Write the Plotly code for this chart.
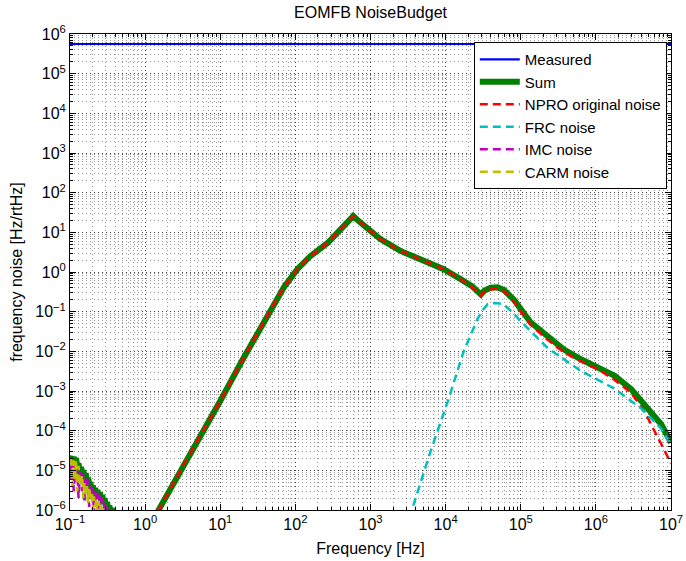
import math
import plotly.graph_objects as go

# ---------------- data ----------------
measured_freq = [0.1, 1e7]
measured_vals = [5.6e5, 5.6e5]

# low-frequency noise region (Hz)
f_low = [0.100, 0.104, 0.108, 0.112, 0.116, 0.120, 0.125, 0.130, 0.135, 0.140,
         0.145, 0.150, 0.156, 0.162, 0.168, 0.174, 0.180, 0.187, 0.194, 0.201,
         0.208, 0.216, 0.224, 0.232, 0.241, 0.250, 0.259, 0.269, 0.279, 0.289,
         0.300, 0.311, 0.322, 0.334, 0.347, 0.360]

imc_vals = [1.4e-5, 6e-6, 1.5e-5, 3e-6, 1.6e-5, 5e-6, 1.1e-5, 2e-6, 7e-6, 1.0e-5,
            3e-6, 8e-6, 1.5e-6, 7e-6, 3.5e-6, 5.5e-6, 1.2e-6, 4.2e-6, 2.5e-6, 3.5e-6,
            8e-7, 3e-6, 1.8e-6, 2.7e-6, 6e-7, 2.3e-6, 1.3e-6, 2e-6, 5e-7, 1.6e-6,
            9e-7, 1.3e-6, 4e-7, 1.0e-6, 5e-7, 8e-7]

carm_vals = [1.8e-5, 1.9e-5, 4e-6, 1.8e-5, 6e-6, 1.7e-5, 3e-6, 1.3e-5, 4e-6, 5e-6,
             7.5e-6, 2e-6, 5e-6, 2.5e-6, 4e-6, 1.5e-6, 3.8e-6, 2e-6, 2.6e-6, 1e-6,
             2.2e-6, 1.2e-6, 1.9e-6, 7e-7, 1.7e-6, 9e-7, 1.4e-6, 6e-7, 1.2e-6, 7e-7,
             1.0e-6, 4e-7, 8e-7, 3e-7, 6e-7, 2e-7]

# NPRO original noise
npro_freq = [1.0, 1.49, 3.16, 10, 20, 43.7, 53.7, 70.8, 107, 158, 269, 437, 525, 589,
             660, 912, 1350, 2500, 4680, 9300, 15800, 22400, 29500, 33000, 39800,
             49000, 60000, 81000, 135000, 224000, 372000, 631000, 1.07e6, 1.78e6,
             2.95e6, 4.37e6, 7.4e6, 1e7]
npro_vals = [2.5e-7, 9.3e-7, 1.26e-5, 5.6e-4, 6.3e-3, 0.091, 0.178, 0.42, 1.2, 2.5,
             5.4, 14.5, 21, 25.7, 21, 12.3, 6.8, 3.4, 2.1, 1.2, 0.66, 0.42, 0.25,
             0.32, 0.37, 0.38, 0.32, 0.178, 0.047, 0.02, 9.5e-3, 5.6e-3, 3.5e-3,
             1.9e-3, 8.9e-4, 3.2e-4, 4.6e-5, 1.5e-5]

# FRC noise
frc_freq = [3000, 3550, 6300, 10700, 17400, 26900, 31600, 36300, 45700, 58900,
            75900, 100000, 229000, 631000, 1.74e6, 3.98e6, 7.4e6, 1e7]
frc_vals = [3e-7, 1e-6, 3e-5, 5.5e-4, 0.01, 0.069, 0.112, 0.155, 0.166, 0.155,
            0.1, 0.0575, 0.012, 3.2e-3, 1.17e-3, 3.7e-4, 1.12e-4, 4.5e-5]

# Sum (total)
sum_freq = [0.100, 0.104, 0.108, 0.112, 0.116, 0.120, 0.125, 0.130, 0.135, 0.140,
            0.145, 0.150, 0.156, 0.162, 0.168, 0.174, 0.180, 0.187, 0.194, 0.201,
            0.208, 0.216, 0.224, 0.232, 0.241, 0.250, 0.259, 0.269, 0.279, 0.289,
            0.300, 0.311, 0.322, 0.334, 0.347, 0.360, 0.40, 0.5,
            1.0, 1.49, 3.16, 10, 20, 43.7, 53.7, 70.8, 107, 158, 269, 437, 525, 589,
            660, 912, 1350, 2500, 4680, 9300, 15800, 22400, 29500, 33000, 39800,
            49000, 60000, 81000, 135000, 224000, 372000, 631000, 1.07e6, 1.78e6,
            2.95e6, 4.37e6, 7.4e6, 1e7]
sum_vals = [2.0e-5, 2.2e-5, 1.6e-5, 2.1e-5, 1.8e-5, 2.0e-5, 1.3e-5, 1.5e-5, 8e-6, 1.2e-5,
            9e-6, 1.0e-5, 6e-6, 8.5e-6, 5e-6, 6.5e-6, 4.5e-6, 5e-6, 3e-6, 4.2e-6,
            2.5e-6, 3.6e-6, 2.2e-6, 3.2e-6, 2.0e-6, 2.8e-6, 1.6e-6, 2.4e-6, 1.4e-6, 2.0e-6,
            1.2e-6, 1.6e-6, 1.0e-6, 1.3e-6, 8e-7, 1.1e-6, 5e-7, 2e-8,
            2.5e-7, 9.3e-7, 1.26e-5, 5.6e-4, 6.3e-3, 0.091, 0.178, 0.42, 1.2, 2.5,
            5.4, 14.5, 21, 25.7, 21, 12.3, 6.8, 3.4, 2.1, 1.2, 0.66, 0.44, 0.27,
            0.34, 0.40, 0.41, 0.35, 0.20, 0.054, 0.0234, 0.0112, 6.3e-3, 4.0e-3,
            2.4e-3, 1.12e-3, 4.7e-4, 1.45e-4, 5.0e-5]

x_tick_vals = [1e-1, 1e0, 1e1, 1e2, 1e3, 1e4, 1e5, 1e6, 1e7]
y_tick_vals = [1e-6, 1e-5, 1e-4, 1e-3, 1e-2, 1e-1, 1e0, 1e1, 1e2, 1e3, 1e4, 1e5, 1e6]


def pow_label(v):
    e = int(round(math.log10(v)))
    s = str(e).replace("-", "\u2212")
    return "10<sup>" + s + "</sup>"


x_tick_text = [pow_label(v) for v in x_tick_vals]
y_tick_text = [pow_label(v) for v in y_tick_vals]

# ---------------- figure ----------------
FONT = "Liberation Sans, Arial, Helvetica, sans-serif"
DASH = "8px,5px"

fig = go.Figure()
fig.add_trace(go.Scatter(x=measured_freq, y=measured_vals, mode="lines", name="Measured",
                         line=dict(color="#0000ff", width=2.2)))
fig.add_trace(go.Scatter(x=sum_freq, y=sum_vals, mode="lines", name="Sum",
                         line=dict(color="#008000", width=6)))
fig.add_trace(go.Scatter(x=npro_freq, y=npro_vals, mode="lines", name="NPRO original noise",
                         line=dict(color="#ff0000", width=2.5, dash=DASH)))
fig.add_trace(go.Scatter(x=frc_freq, y=frc_vals, mode="lines", name="FRC noise",
                         line=dict(color="#00bfbf", width=2.5, dash=DASH)))
fig.add_trace(go.Scatter(x=f_low, y=imc_vals, mode="lines", name="IMC noise",
                         line=dict(color="#bf00bf", width=2.5, dash=DASH)))
fig.add_trace(go.Scatter(x=f_low, y=carm_vals, mode="lines", name="CARM noise",
                         line=dict(color="#bfbf00", width=2.5, dash=DASH)))

grid = dict(showgrid=True, gridcolor="rgba(0,0,0,0.55)", griddash="1px,3px", gridwidth=1)
minor = dict(ticks="inside", ticklen=3, tickcolor="black", dtick="D1",
             showgrid=True, gridcolor="rgba(0,0,0,0.4)", griddash="1px,3px", gridwidth=1)

fig.update_xaxes(type="log", range=[-1, 7], tickvals=x_tick_vals, ticktext=x_tick_text,
                 ticks="inside", ticklen=6, tickcolor="black", automargin=False,
                 showline=True, linecolor="black", linewidth=1, mirror="ticks",
                 zeroline=False, minor=minor, **grid, ticklabelstandoff=0,
                 title=dict(text="Frequency [Hz]", font=dict(size=16, color="black"), standoff=10),
                 tickfont=dict(size=16, color="black"))
fig.update_yaxes(type="log", range=[-6, 6], tickvals=y_tick_vals, ticktext=y_tick_text,
                 ticks="inside", ticklen=6, tickcolor="black", automargin=False,
                 showline=True, linecolor="black", linewidth=1, mirror="ticks",
                 zeroline=False, minor=minor, **grid,
                 title=dict(text="frequency noise [Hz/rtHz]", font=dict(size=16, color="black"), standoff=8),
                 tickfont=dict(size=16, color="black"))

fig.update_layout(
    width=686, height=561,
    margin=dict(l=70, r=15, t=34, b=51),
    paper_bgcolor="white", plot_bgcolor="white",
    font=dict(family=FONT, size=16, color="black"),
    title=dict(text="EOMFB NoiseBudget", x=0.5, xref="paper", xanchor="center",
               y=0.978, yref="container", yanchor="middle",
               font=dict(size=16, color="black")),
    legend=dict(x=0.993, xanchor="right", y=0.983, yanchor="top",
                bgcolor="white", bordercolor="black", borderwidth=1,
                font=dict(size=15, color="black"), tracegroupgap=0, itemwidth=40),
    showlegend=True,
)

# remove the browser's default 8px body margin so the figure fills the window exactly
fig.write_html("out.html", config={"displayModeBar": False},
               post_script="document.body.style.margin='0';")
